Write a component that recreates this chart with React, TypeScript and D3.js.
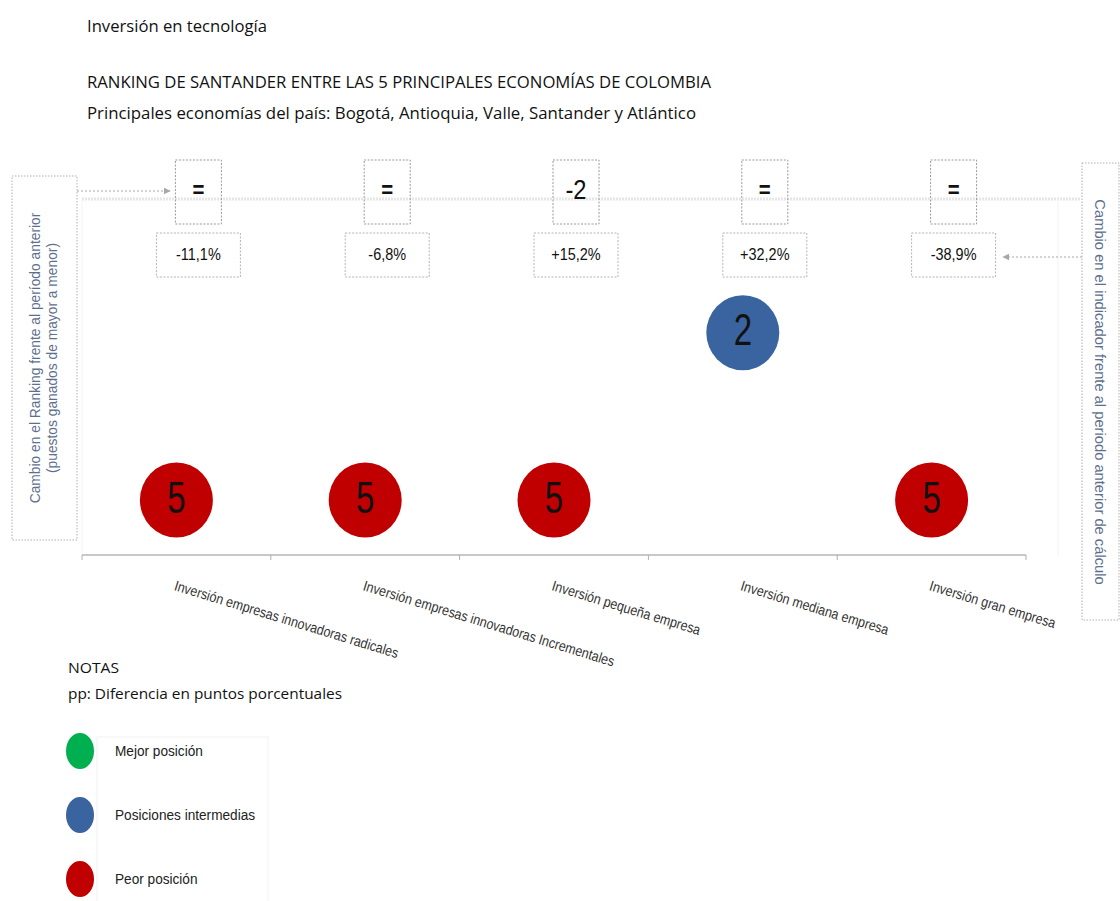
import React from "react";
import * as d3 from "d3";

const categories = [
  "Inversión empresas innovadoras radicales",
  "Inversión empresas innovadoras Incrementales",
  "Inversión pequeña empresa",
  "Inversión mediana empresa",
  "Inversión gran empresa",
];
const ranks = [5, 5, 5, 2, 5];
const rankChanges = ["=", "=", "-2", "=", "="];
const pctChanges = ["-11,1%", "-6,8%", "+15,2%", "+32,2%", "-38,9%"];

const legendItems = ["Mejor posición", "Posiciones intermedias", "Peor posición"];
const legendColors = ["#00b050", "#3a64a0", "#c00000"];

const titleText = "Inversión en tecnología";
const subtitle1 = "RANKING DE SANTANDER ENTRE LAS 5 PRINCIPALES ECONOMÍAS DE COLOMBIA";
const subtitle2 = "Principales economías del país: Bogotá, Antioquia, Valle, Santander y Atlántico";
const leftNote1 = "Cambio en el Ranking frente al período anterior";
const leftNote2 = "(puestos ganados de mayor a menor)";
const rightNote = "Cambio en el indicador frente al periodo anterior de cálculo";
const notes = ["NOTAS", "pp: Diferencia en puntos porcentuales"];

function rankColor(r: number) {
  if (r === 1) return legendColors[0];
  if (r === 5) return legendColors[2];
  return legendColors[1];
}

export default function App() {
  const W = 1120;
  const H = 901;
  const x = d3.scaleBand<string>().domain(categories).range([82, 1026]);
  const y = d3.scaleLinear().domain([1, 5]).range([277, 500]);
  const bw = x.bandwidth();
  const boxOff = 22;
  const narrow = "'Liberation Sans', Arial, sans-serif";
  const calibri = "'Open Sans', sans-serif";
  const noteColor = "#5d6f8e";

  return (
    <svg
      width={W}
      height={H}
      style={{ position: "absolute", left: 0, top: 0, background: "#fff" }}
    >
      <defs>
        <marker id="arr" viewBox="0 0 10 10" refX="9" refY="5" markerWidth="7" markerHeight="7" orient="auto">
          <path d="M0,0 L10,5 L0,10 z" fill="#a8a8a8" />
        </marker>
      </defs>

      {/* titles */}
      <text x={87} y={32} fontFamily={calibri} fontSize={16} fill="#111" textLength={180} lengthAdjust="spacingAndGlyphs">
        {titleText}
      </text>
      <text x={87} y={88} fontFamily={calibri} fontSize={16} fill="#111" textLength={624} lengthAdjust="spacingAndGlyphs">
        {subtitle1}
      </text>
      <text x={87} y={119} fontFamily={calibri} fontSize={16} fill="#111" textLength={609} lengthAdjust="spacingAndGlyphs">
        {subtitle2}
      </text>

      {/* plot frame lines */}
      <line x1={82} x2={1080} y1={199} y2={199} stroke="#e6e6e6" strokeWidth={3} strokeDasharray="2,1" />
      <line x1={82} x2={82} y1={199} y2={555} stroke="#f2f2f2" strokeWidth={1} />
      <line x1={1058} x2={1058} y1={199} y2={555} stroke="#f2f2f2" strokeWidth={1} />

      {/* axis */}
      <line x1={82} x2={1026} y1={555} y2={555} stroke="#c8c8c8" strokeWidth={2} />
      {x.domain().map((c) => (
        <line key={"t" + c} x1={(x(c) as number) + bw} x2={(x(c) as number) + bw} y1={555} y2={560} stroke="#b0b0b0" />
      ))}
      <line x1={82} x2={82} y1={555} y2={560} stroke="#b0b0b0" />
      {categories.map((c) => {
        const cx = (x(c) as number) + bw / 2 - 3;
        return (
          <text
            key={"l" + c}
            transform={`translate(${cx},${590}) rotate(17) scale(0.86,1)`}
            fontFamily={narrow}
            fontSize={14.5}
            fill="#333"
          >
            {c}
          </text>
        );
      })}

      {/* left annotation box */}
      <rect x={12} y={176} width={65} height={364} fill="none" stroke="#b0b0b0" strokeDasharray="1.5,1.5" />
      <g transform={`translate(0,358) rotate(-90)`}>
        <text x={0} y={40} textAnchor="middle" fontFamily={narrow} fontSize={15} fill={noteColor} transform="scale(0.92,1)">
          {leftNote1}
        </text>
        <text x={0} y={57} textAnchor="middle" fontFamily={narrow} fontSize={15} fill={noteColor} transform="scale(0.92,1)">
          {leftNote2}
        </text>
      </g>
      <line x1={77} y1={191} x2={170} y2={191} stroke="#a8a8a8" strokeDasharray="2,2" markerEnd="url(#arr)" />

      {/* right annotation box */}
      <rect x={1082} y={163} width={37} height={457} fill="none" stroke="#b0b0b0" strokeDasharray="1.5,1.5" />
      <g transform={`translate(1095,392) rotate(90)`}>
        <text x={0} y={0} textAnchor="middle" fontFamily={narrow} fontSize={15.5} fill={noteColor} transform="scale(0.95,1)">
          {rightNote}
        </text>
      </g>
      <line x1={1082} y1={257} x2={1003} y2={257} stroke="#a8a8a8" strokeDasharray="2,2" markerEnd="url(#arr)" />

      {/* rank change boxes and pct boxes */}
      {categories.map((c, i) => {
        const cx = (x(c) as number) + bw / 2 + boxOff;
        return (
          <g key={"b" + c}>
            <rect x={cx - 23} y={160} width={46} height={64} fill="none" stroke="#9a9a9a" strokeDasharray="2,1.5" />
            <text
              transform={`translate(${cx},${192}) scale(0.85,1)`}
              textAnchor="middle"
              dominantBaseline="middle"
              fontFamily={narrow}
              fontSize={rankChanges[i] === "=" ? 24 : 28}
              fontWeight={rankChanges[i] === "=" ? "bold" : "normal"}
              fill="#111"
            >
              {rankChanges[i]}
            </text>
            <rect x={cx - 42} y={233} width={84} height={44} fill="none" stroke="#b4b4b4" strokeDasharray="2,1.5" />
            <text
              transform={`translate(${cx},${256}) scale(0.85,1)`}
              textAnchor="middle"
              dominantBaseline="middle"
              fontFamily={narrow}
              fontSize={17}
              fill="#111"
            >
              {pctChanges[i]}
            </text>
          </g>
        );
      })}

      {/* rank circles */}
      {categories.map((c, i) => {
        const cx = (x(c) as number) + bw / 2;
        const cy = y(ranks[i]);
        return (
          <g key={"c" + c}>
            <ellipse cx={cx} cy={cy} rx={36.5} ry={37.5} fill={rankColor(ranks[i])} />
            <text
              transform={`translate(${cx},${cy + 1}) scale(0.75,1)`}
              textAnchor="middle"
              dominantBaseline="middle"
              fontFamily={narrow}
              fontSize={44}
              fill="#111"
            >
              {ranks[i]}
            </text>
          </g>
        );
      })}

      {/* notes */}
      <text x={68} y={673} fontFamily={calibri} fontSize={15} fill="#111" textLength={51} lengthAdjust="spacingAndGlyphs">
        {notes[0]}
      </text>
      <text x={68} y={699} fontFamily={calibri} fontSize={15} fill="#111" textLength={274} lengthAdjust="spacingAndGlyphs">
        {notes[1]}
      </text>

      {/* legend */}
      <rect x={97} y={737} width={171} height={165} fill="none" stroke="#f2f2f2" />
      {legendItems.map((it, i) => {
        const cy = 751 + i * 64;
        return (
          <g key={"lg" + it}>
            <ellipse cx={80} cy={cy} rx={14} ry={18} fill={legendColors[i]} />
            <text
              transform={`translate(115,${cy + 1}) scale(0.88,1)`}
              dominantBaseline="middle"
              fontFamily={narrow}
              fontSize={15.5}
              fill="#222"
            >
              {it}
            </text>
          </g>
        );
      })}
    </svg>
  );
}
